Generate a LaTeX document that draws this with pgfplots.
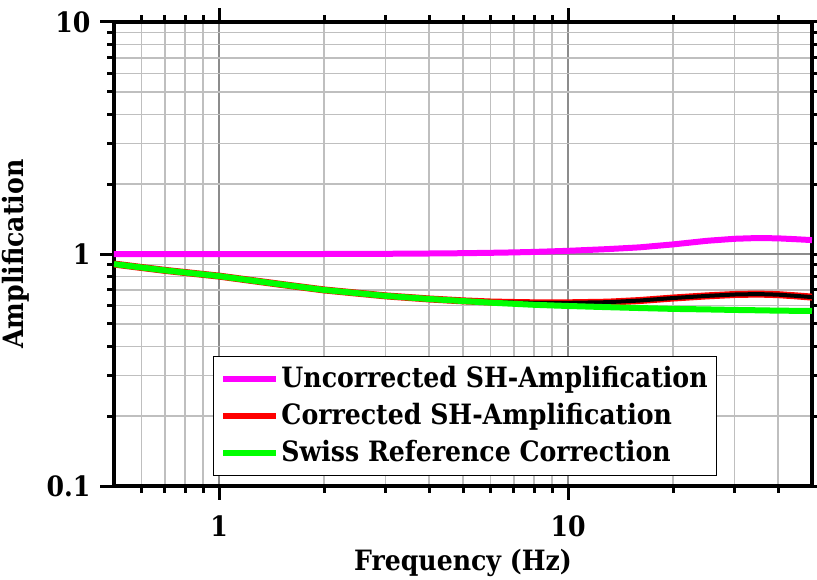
\documentclass[border=0pt]{standalone}
\usepackage{fontspec}
\setmainfont{DejaVu Serif Condensed}
\usepackage{pgfplots}
\pgfplotsset{compat=1.18}
\definecolor{magline}{RGB}{255,0,255}
\definecolor{redline}{RGB}{255,0,0}
\definecolor{greenline}{RGB}{0,255,0}

\begin{document}
\bfseries\fontsize{28}{33}\selectfont
\begin{tikzpicture}
\begin{axis}[
    xmode=log, ymode=log,
    scale only axis=true,
    width=698pt, height=464pt,
    xmin=0.5, xmax=50,
    ymin=0.1, ymax=10,
    xtick={1,10}, xticklabels={1,10},
    ytick={0.1,1,10}, yticklabels={0.1,1,10},
    minor xtick={0.6,0.7,0.8,0.9,2,3,4,5,6,7,8,9,20,30,40},
    minor ytick={0.2,0.3,0.4,0.5,0.6,0.7,0.8,0.9,2,3,4,5,6,7,8,9},
    grid=both,
    major grid style={black!45, line width=1.5pt},
    minor grid style={black!25, line width=1.5pt},
    tick pos=both,
    tick align=outside,
    major tick length=14pt,
    minor tick length=7pt,
    every tick/.style={black, line width=3pt},
    axis line style={line width=4pt},
    /pgf/number format/assume math mode=true,
    xticklabel style={yshift=-6pt},
    yticklabel style={xshift=0pt},
    xlabel={Frequency (Hz)},
    ylabel={Amplification},
    xlabel style={yshift=6pt},
    ylabel style={yshift=-2pt},
    legend cell align=left,
    legend style={at={(0.1418,0.2802)}, anchor=north west, draw=black,
        line width=1pt, inner xsep=7pt, inner ysep=8pt, row sep=7.5pt,
        font=\bfseries\fontsize{28}{33}\selectfont},
    legend image code/.code={\draw[#1, line width=6pt] (0pt,0pt) -- (53pt,0pt);},
]

\addplot[color=magline, line width=6pt] coordinates {
    (0.5,1.0)(0.7,1.0)(1,1.0)(1.5,1.0)(2,1.0)(3,1.002)(4,1.005)(5,1.008)(6,1.012)
    (7,1.016)(8,1.021)(10,1.032)(13,1.05)(16,1.068)(20,1.10)(25,1.14)(30,1.163)
    (35,1.172)(40,1.168)(45,1.158)(50,1.148)
};
\addlegendentry{Uncorrected SH-Amplification}

\addplot[color=redline, line width=7pt] coordinates {
    (0.5,0.905)(0.7,0.85)(1,0.803)(1.5,0.74)(2,0.70)(3,0.66)(4,0.64)(5,0.628)
    (6,0.621)(7,0.618)(8,0.616)(10,0.616)(13,0.62)(16,0.63)(20,0.646)(25,0.66)
    (30,0.669)(35,0.672)(40,0.668)(45,0.66)(50,0.652)
};
\addlegendentry{Corrected SH-Amplification}

\addplot[color=black, line width=4pt, forget plot] coordinates {
    (0.5,0.905)(0.7,0.85)(1,0.803)(1.5,0.74)(2,0.70)(3,0.66)(4,0.64)(5,0.628)
    (6,0.621)(7,0.618)(8,0.616)(10,0.616)(13,0.62)(16,0.63)(20,0.646)(25,0.66)
    (30,0.669)(35,0.672)(40,0.668)(45,0.66)(50,0.652)
};

\addplot[color=greenline, line width=6pt] coordinates {
    (0.5,0.905)(0.7,0.85)(1,0.803)(1.5,0.74)(2,0.70)(3,0.66)(4,0.64)(5,0.627)
    (6,0.617)(7,0.61)(8,0.604)(10,0.597)(13,0.59)(16,0.585)(20,0.58)(25,0.577)
    (30,0.574)(35,0.572)(40,0.57)(45,0.569)(50,0.568)
};
\addlegendentry{Swiss Reference Correction}

\coordinate (sw) at (rel axis cs:0,0);
\coordinate (ne) at (rel axis cs:1,1);
\end{axis}
\pgfresetboundingbox
\path ([shift={(-114pt,-93pt)}]sw) rectangle ([shift={(5pt,22pt)}]ne);
\end{tikzpicture}
\end{document}
